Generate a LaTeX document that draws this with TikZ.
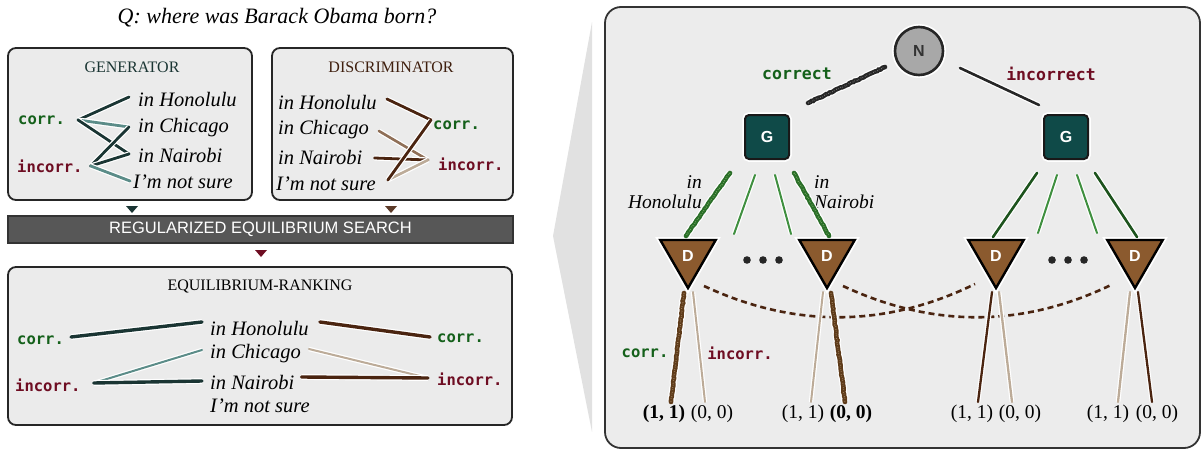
\documentclass[tikz,border=0pt]{standalone}
\usepackage{fontspec}
\setmainfont{Liberation Serif}
\setsansfont{Liberation Sans}
\setmonofont{DejaVu Sans Mono}
\usetikzlibrary{shapes.geometric,decorations.pathmorphing,calc}

\definecolor{boxfill}{HTML}{EBEBEB}
\definecolor{panelfill}{HTML}{ECECEC}
\definecolor{wedgefill}{HTML}{E1E1E1}
\definecolor{barfill}{HTML}{575757}
\definecolor{gendark}{HTML}{1A3533}
\definecolor{genlight}{HTML}{5B8C88}
\definecolor{discdark}{HTML}{4A2410}
\definecolor{discmid}{HTML}{8F6F57}
\definecolor{disclight}{HTML}{BCAB98}
\definecolor{corrgreen}{HTML}{14601A}
\definecolor{incorrred}{HTML}{6E0D22}
\definecolor{gfill}{HTML}{0F4A48}
\definecolor{dfill}{HTML}{8B5A2E}
\definecolor{nfill}{HTML}{A8A8A8}
\definecolor{treedark}{HTML}{1D531D}
\definecolor{treelight}{HTML}{3F8F3F}
\definecolor{crayongreen}{HTML}{2A6E28}
\definecolor{crayongreenfleck}{HTML}{7DB56A}
\definecolor{crayonbrown}{HTML}{5E3B1A}
\definecolor{crayonbrownfleck}{HTML}{A3835F}
\definecolor{crayonblack}{HTML}{262626}
\definecolor{crayonblackfleck}{HTML}{7A7A7A}

\newcommand{\fsz}[1]{\fontsize{#1}{#1}\selectfont}

\begin{document}
\begin{tikzpicture}[x=1pt,y=-1pt,
  halo/.style={preaction={draw=white,line width=#1}},
  lnk/.style 2 args={draw=#1, line width=#2, line cap=round, halo=#2+2.4pt},
  crayon/.style 2 args={draw=#1, line width=4.6pt, line cap=round,
    decorate, decoration={random steps, segment length=2pt, amplitude=0.45pt},
    preaction={draw=white, line width=7pt},
    postaction={draw=#2, line width=1.1pt, line cap=butt,
      dash pattern=on 0.7pt off 1.3pt on 0.5pt off 2.1pt}},
  panelbox/.style={draw=black!85, line width=1.8pt, fill=boxfill, rounded corners=8pt, inner sep=0pt},
  boxtitle/.style={font=\fsz{16}, inner sep=0pt},
  item/.style={font=\fsz{20.5}\itshape, inner sep=0pt, anchor=west},
  corrlab/.style={font=\fsz{15.5}\ttfamily\bfseries, text=corrgreen, inner sep=0pt, anchor=west},
  incorrlab/.style={font=\fsz{15.5}\ttfamily\bfseries, text=incorrred, inner sep=0pt, anchor=west},
  treelab/.style={font=\fsz{16.5}\ttfamily\bfseries, inner sep=0pt},
  ilab/.style={font=\fontsize{19.5}{20}\selectfont\itshape, inner sep=0pt},
  pay/.style={font=\fsz{19.5}, inner sep=0pt},
  nnode/.style={circle, minimum size=48pt, inner sep=0pt, fill=nfill, draw=black!85, line width=2.6pt,
    preaction={draw=white, line width=6pt}, font=\sffamily\bfseries\fsz{16}, text=black!80},
  gnode/.style={rectangle, rounded corners=4pt, minimum size=44pt, inner sep=0pt, fill=gfill,
    draw=black!90, line width=2pt, preaction={draw=white, line width=5.5pt},
    font=\sffamily\bfseries\fsz{16}, text=white},
  dnode/.style={regular polygon, regular polygon sides=3, shape border rotate=180, minimum size=64pt,
    inner sep=0pt, fill=dfill, draw=black, line width=2.4pt, preaction={draw=white, line width=6pt},
    font=\sffamily\bfseries\fsz{16}, text=white},
  dashcurve/.style={draw=discdark, line width=2.6pt, dash pattern=on 6pt off 4pt}
]
\useasboundingbox (0,0) rectangle (1204,452);

% zoom wedge between the two halves
\fill[wedgefill] (592,22) -- (553,236) -- (592,432) -- cycle;

% ---------------- left half ----------------
\node[font=\fsz{22}\itshape, inner sep=0pt] (question) at (277,18) {Q: where was Barack Obama born?};

\node[panelbox, minimum width=244pt, minimum height=152pt] (genbox) at (130,124) {};
\node[panelbox, minimum width=241pt, minimum height=152pt] (discbox) at (392.5,124) {};
\node[draw=black!80, fill=barfill, line width=1.2pt, minimum width=505pt, minimum height=27pt,
      inner sep=0pt, text=white, font=\sffamily\fsz{16.5}] (bar) at (260.5,229.5)
      {REGULARIZED EQUILIBRIUM SEARCH};
\node[panelbox, minimum width=504pt, minimum height=158pt] (eqbox) at (260,346) {};

% small markers feeding into / out of the search bar
\fill[gendark] (126,206) -- (138,206) -- (132,213) -- cycle;
\fill[discdark!90!white] (385,206) -- (397,206) -- (391,213) -- cycle;
\fill[incorrred] (255,250) -- (267,250) -- (261,257) -- cycle;

% generator
\node[boxtitle, text=gendark] (gentitle) at (132,67) {GENERATOR};
\node[item] (gH) at (138,100) {in Honolulu};
\node[item] (gCh) at (138,128) {in Chicago};
\node[item] (gN) at (138,155) {in Nairobi};
\node[item] (gS) at (133,182) {I'm not sure};
\node[corrlab] (gC) at (18,120) {corr.};
\node[incorrlab] (gI) at (17,166) {incorr.};
\coordinate (gCp) at ($(gC.east)+(13,0)$);
\coordinate (gIp) at ($(gI.east)+(8,0)$);
\draw[lnk={gendark}{2.8pt}] (gCp) -- ($(gH.west)+(-9,-3)$);
\draw[lnk={genlight}{2.8pt}] (gCp) -- ($(gCh.west)+(-9,-1)$);
\draw[lnk={gendark}{2.8pt}] (gCp) -- ($(gN.west)+(-9,-1)$);
\draw[lnk={gendark}{2.8pt}] (gIp) -- ($(gCh.west)+(-9,-1)$);
\draw[lnk={gendark}{2.8pt}] (gIp) -- ($(gN.west)+(-9,-1)$);
\draw[lnk={genlight}{2.8pt}] (gIp) -- ($(gS.west)+(-3,-1)$);

% discriminator
\node[boxtitle, text=discdark!85!black] (disctitle) at (391,67) {DISCRIMINATOR};
\node[item] (dH) at (278,103) {in Honolulu};
\node[item] (dCh) at (278,130) {in Chicago};
\node[item] (dN) at (278,157) {in Nairobi};
\node[item] (dS) at (276,184) {I'm not sure};
\node[corrlab] (dC) at (433,125) {corr.};
\node[incorrlab] (dI) at (438,164) {incorr.};
\coordinate (dCp) at ($(dC.west)+(-2,-5)$);
\coordinate (dIp) at ($(dI.west)+(-10,-4)$);
\draw[lnk={discdark}{2.8pt}] ($(dH.east)+(10,-4)$) -- (dCp);
\draw[lnk={discmid}{2.6pt}] ($(dCh.east)+(10,1)$) -- (dIp);
\draw[lnk={discdark}{2.8pt}] ($(dN.east)+(12,1)$) -- (dIp);
\draw[lnk={disclight}{2.6pt}] ($(dS.east)+(12,-4)$) -- (dIp);
\draw[lnk={discdark}{2.8pt}] ($(dS.east)+(12,-4)$) -- (dCp);

% equilibrium ranking
\node[boxtitle] (eqtitle) at (260,286) {EQUILIBRIUM-RANKING};
\node[item] (eH) at (210,329) {in Honolulu};
\node[item] (eCh) at (210,354) {in Chicago};
\node[item] (eN) at (210,382) {in Nairobi};
\node[item] (eS) at (210,406) {I'm not sure};
\node[corrlab] (eCl) at (17,340) {corr.};
\node[incorrlab] (eIl) at (15,385) {incorr.};
\node[corrlab] (eCr) at (437,338) {corr.};
\node[incorrlab] (eIr) at (437,379) {incorr.};
\draw[lnk={gendark}{3.4pt}] ($(eCl.east)+(7,-3)$) -- ($(eH.west)+(-8,-7)$);
\draw[lnk={genlight}{2pt}] ($(eIl.east)+(13,-2)$) -- ($(eCh.west)+(-8,-4)$);
\draw[lnk={gendark}{3.4pt}] ($(eIl.east)+(13,-2)$) -- ($(eN.west)+(-8,-1)$);
\draw[lnk={discdark}{3.4pt}] ($(eH.east)+(11,-7)$) -- ($(eCr.west)+(-7,-1)$);
\draw[lnk={disclight}{2pt}] ($(eCh.east)+(8,-5)$) -- ($(eIr.west)+(-9,-1)$);
\draw[lnk={discdark}{3.4pt}] ($(eN.east)+(7,-5)$) -- ($(eIr.west)+(-9,-1)$);

% ---------------- right half: game tree ----------------
\node[draw=black!80, line width=1.8pt, fill=panelfill, rounded corners=16pt,
      minimum width=595pt, minimum height=441pt, inner sep=0pt] (panel) at (902.5,227.5) {};

\node[nnode] (N) at (919,51) {N};
\node[gnode] (G1) at (767,137) {G};
\node[gnode] (G2) at (1066,137) {G};
\node[dnode] (D1) at (688,256) {D};
\node[dnode] (D2) at (827,256) {D};
\node[dnode] (D3) at (996,256) {D};
\node[dnode] (D4) at (1135,256) {D};

\node[treelab, text=corrgreen] (lcorrect) at (797,74) {correct};
\node[treelab, text=incorrred] (lincorrect) at (1051,74) {incorrect};
\node[ilab, align=right, anchor=east] (lhon) at (702,192) {in\\Honolulu};
\node[ilab, align=left, anchor=west] (lnai) at (814,192) {in\\Nairobi};
\node[corrlab, anchor=center] (lcorr) at (645,353) {corr.};
\node[incorrlab, anchor=center] (lincorr) at (740,353) {incorr.};

% ellipses between the discriminator nodes
\foreach \x in {747,763,779,1052,1068,1084}
  \fill[black!85] (\x,260) circle (3.8pt);

% chance node to generator nodes
\draw[crayon={crayonblack}{crayonblackfleck}] ($(G1.center)+(41,-34)$) -- ($(N.center)+(-34,16)$);
\draw[lnk={black!85}{2.6pt}] ($(N.center)+(41,17)$) -- ($(G2.center)+(-27,-32)$);

% generator to discriminator nodes (left)
\draw[lnk={treelight}{2pt}] ($(G1.center)+(-12,38)$) -- ($(D1.center)+(46,-22)$);
\draw[lnk={treelight}{2pt}] ($(G1.center)+(8,38)$) -- ($(D2.center)+(-36,-22)$);
\draw[crayon={crayongreen}{crayongreenfleck}] ($(G1.center)+(-37,36)$) -- ($(D1.center)+(-2,-20)$);
\draw[crayon={crayongreen}{crayongreenfleck}] ($(G1.center)+(27,36)$) -- ($(D2.center)+(2,-20)$);

% generator to discriminator nodes (right)
\draw[lnk={treedark}{2.6pt}] ($(G2.center)+(-29,36)$) -- ($(D3.center)+(-3,-19)$);
\draw[lnk={treelight}{2pt}] ($(G2.center)+(-9,38)$) -- ($(D3.center)+(42,-23)$);
\draw[lnk={treelight}{2pt}] ($(G2.center)+(11,38)$) -- ($(D4.center)+(-38,-23)$);
\draw[lnk={treedark}{2.6pt}] ($(G2.center)+(29,36)$) -- ($(D4.center)+(2,-19)$);

% information sets
\draw[dashcurve] ($(D1.center)+(16,30)$) .. controls +(90,42) and +(-90,44) .. ($(D3.center)+(-21,28)$);
\draw[dashcurve] ($(D2.center)+(16,30)$) .. controls +(90,42) and +(-90,44) .. ($(D4.center)+(-22,28)$);

% payoffs
\node[pay] (p11) at (664,414) {\textbf{(1, 1)}};
\node[pay] (p12) at (712,414) {(0, 0)};
\node[pay] (p21) at (803,414) {(1, 1)};
\node[pay] (p22) at (851,414) {\textbf{(0, 0)}};
\node[pay] (p31) at (972,414) {(1, 1)};
\node[pay] (p32) at (1020,414) {(0, 0)};
\node[pay] (p41) at (1108,414) {(1, 1)};
\node[pay] (p42) at (1157,414) {(0, 0)};

\draw[lnk={disclight}{2pt}] ($(D1.center)+(5,36)$) -- ($(p12.north)+(-7,-3)$);
\draw[crayon={crayonbrown}{crayonbrownfleck}] ($(D1.center)+(-4,37)$) -- ($(p11.north)+(7,-3)$);
\draw[lnk={disclight}{2pt}] ($(D2.center)+(-4,36)$) -- ($(p21.north)+(8,-3)$);
\draw[crayon={crayonbrown}{crayonbrownfleck}] ($(D2.center)+(4,37)$) -- ($(p22.north)+(-6,-3)$);
\draw[lnk={discdark}{2.3pt}] ($(D3.center)+(-4,36)$) -- ($(p31.north)+(6,-3)$);
\draw[lnk={disclight}{2.3pt}] ($(D3.center)+(3,36)$) -- ($(p32.north)+(-8,-3)$);
\draw[lnk={disclight}{2.3pt}] ($(D4.center)+(-5,36)$) -- ($(p41.north)+(10,-3)$);
\draw[lnk={discdark}{2.3pt}] ($(D4.center)+(3,36)$) -- ($(p42.north)+(-5,-3)$);
\end{tikzpicture}
\end{document}
